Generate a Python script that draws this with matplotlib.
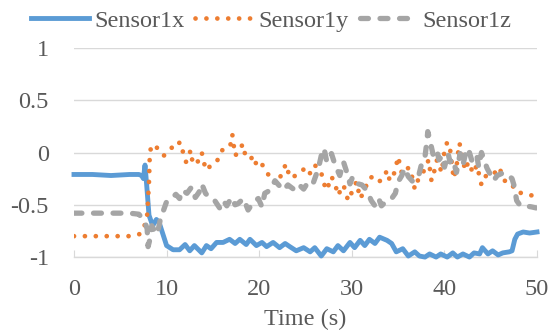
import numpy as np
import matplotlib
matplotlib.use("Agg")
import matplotlib.pyplot as plt

# Sensor1x
t_x = [0, 2, 4, 6, 7.0, 7.3, 7.5, 7.67, 7.85, 8.1, 8.5, 8.9, 9.2, 9.6, 10.0, 10.7, 11.4, 12.0, 12.5,
       13.0, 13.8, 14.3, 14.8, 15.4, 16.1, 16.8, 17.4, 17.9, 18.6, 19.0, 19.7, 20.3, 20.8, 21.5, 22.2,
       22.8, 23.3, 24.0, 24.8, 25.5, 26.0, 26.7, 27.3, 28.0, 28.5, 29.1, 29.8, 30.3, 30.9, 31.4, 31.9,
       32.5, 33.0, 33.8, 34.3, 34.8, 35.5, 36.1, 36.8, 37.3, 37.9, 38.4, 39.1, 39.6, 40.3, 40.9, 41.4,
       42.0, 42.7, 43.2, 43.8, 44.1, 44.7, 45.2, 45.8, 46.3, 47.0, 47.3, 47.6, 47.9, 48.5, 49.2, 50.0]
sensor1x = [-0.21, -0.21, -0.22, -0.21, -0.21, -0.22, -0.25, -0.12, -0.31, -0.6, -0.7, -0.64, -0.67,
            -0.78, -0.89, -0.93, -0.93, -0.88, -0.94, -0.89, -0.96, -0.89, -0.92, -0.86, -0.86, -0.83,
            -0.87, -0.83, -0.88, -0.83, -0.89, -0.86, -0.9, -0.86, -0.91, -0.87, -0.9, -0.94, -0.91,
            -0.95, -0.91, -0.99, -0.92, -0.95, -0.89, -0.94, -0.86, -0.91, -0.84, -0.89, -0.83, -0.87,
            -0.81, -0.84, -0.87, -0.95, -0.92, -0.99, -0.95, -0.99, -1.0, -0.97, -1.0, -0.97, -1.0,
            -0.96, -1.0, -0.97, -1.0, -0.96, -0.97, -0.91, -0.97, -0.94, -0.98, -0.96, -0.95, -0.94,
            -0.83, -0.78, -0.76, -0.77, -0.76]

# Sensor1y
t_y = [0, 3, 6, 7.1, 7.5, 7.9, 8.0, 8.1, 8.2, 8.7, 9.0, 9.2, 9.7, 10.1, 10.6, 11.2, 11.4, 11.6, 11.9,
       12.1, 12.6, 12.7, 13.2, 13.5, 13.8, 14.0, 14.3, 14.8, 15.4, 16.0, 16.4, 17.0, 17.1, 17.4, 17.9,
       18.2, 18.4, 19.0, 19.4, 19.7, 20.1, 20.6, 21.1, 21.5, 22.0, 22.5, 22.9, 23.3, 24.0, 24.4, 25.1,
       25.5, 26.0, 26.7, 26.9, 27.3, 27.8, 28.2, 28.5, 29.1, 29.6, 30.0, 30.5, 30.9, 31.4, 31.8, 32.3,
       32.9, 33.4, 33.8, 34.1, 34.5, 34.8, 35.0, 35.4, 35.7, 36.3, 36.8, 37.2, 37.7, 38.3, 38.6, 38.9,
       39.2, 39.7, 40.0, 40.3, 40.6, 41.0, 41.3, 41.6, 41.9, 42.2, 42.6, 43.1, 43.5, 44.0, 44.5, 45.2,
       45.9, 46.5, 47.1, 47.8, 48.5, 49.4]
sensor1y = [-0.8, -0.8, -0.8, -0.78, -0.74, -0.6, -0.45, -0.28, 0.02, 0.08, 0.04, 0.01, -0.03, 0.0,
            0.05, 0.05, 0.1, 0.03, -0.01, -0.09, 0.02, -0.06, -0.12, -0.06, 0.0, -0.09, -0.17, -0.12,
            -0.09, 0.02, 0.07, 0.08, 0.17, -0.03, 0.02, 0.08, 0.0, -0.07, -0.03, -0.12, -0.09, -0.15,
            -0.23, -0.25, -0.3, -0.18, -0.11, -0.24, -0.22, -0.19, -0.14, -0.2, -0.12, -0.19, -0.28,
            -0.36, -0.23, -0.3, -0.41, -0.31, -0.46, -0.38, -0.28, -0.44, -0.36, -0.25, -0.23, -0.28,
            -0.25, -0.17, -0.27, -0.22, -0.12, -0.04, -0.2, -0.15, -0.15, -0.35, -0.25, -0.19, -0.07,
            -0.27, -0.18, -0.07, -0.19, 0.01, 0.1, 0.04, -0.25, -0.14, 0.09, 0.02, -0.17, -0.09, -0.2,
            -0.12, -0.31, -0.22, -0.22, -0.14, -0.27, -0.28, -0.38, -0.39, -0.41]

# Sensor1z
t_z = [0, 3, 6, 7.0, 7.6, 7.9, 8.0, 8.2, 8.4, 8.7, 9.0, 9.3, 9.6, 10.0, 10.5, 11.0, 11.4, 11.7, 12.2,
       12.7, 13.1, 13.5, 13.8, 14.2, 14.7, 15.2, 15.8, 16.2, 16.5, 17.0, 17.4, 17.7, 18.3, 18.8, 19.4,
       19.9, 20.3, 20.6, 21.2, 21.7, 22.1, 22.6, 23.1, 23.7, 24.2, 24.8, 25.3, 25.8, 26.4, 26.8, 27.0,
       27.3, 27.8, 28.2, 28.7, 29.1, 29.5, 29.8, 30.1, 30.7, 31.1, 31.6, 32.1, 32.5, 32.9, 33.2, 33.8,
       34.3, 34.7, 35.0, 35.4, 35.7, 36.1, 36.6, 37.2, 37.5, 37.9, 38.1, 38.2, 38.4, 38.8, 39.2, 39.4,
       39.8, 40.0, 40.4, 40.6, 40.9, 41.3, 41.7, 42.0, 42.4, 42.7, 43.0, 43.5, 43.7, 44.0, 44.6, 44.9,
       45.3, 45.7, 46.2, 46.7, 47.3, 47.5, 47.8, 48.2, 48.7, 49.4, 49.9]
sensor1z = [-0.58, -0.58, -0.58, -0.59, -0.65, -0.73, -0.9, -0.83, -0.7, -0.75, -0.78, -0.65, -0.57,
            -0.47, -0.44, -0.4, -0.44, -0.36, -0.39, -0.33, -0.43, -0.38, -0.3, -0.39, -0.44, -0.46,
            -0.54, -0.47, -0.51, -0.43, -0.5, -0.49, -0.44, -0.55, -0.47, -0.44, -0.52, -0.39, -0.36,
            -0.27, -0.31, -0.36, -0.31, -0.35, -0.3, -0.35, -0.28, -0.3, -0.15, 0.01, 0.04, -0.09, -0.01,
            -0.12, -0.22, -0.09, -0.2, -0.3, -0.23, -0.3, -0.31, -0.36, -0.46, -0.51, -0.44, -0.51,
            -0.46, -0.44, -0.39, -0.28, -0.22, -0.15, -0.23, -0.28, -0.23, -0.12, -0.04, 0.1, 0.2, 0.13,
            -0.03, 0.02, -0.07, -0.03, -0.14, -0.01, -0.09, -0.06, -0.19, -0.01, -0.12, 0.04, 0.0,
            -0.09, -0.03, -0.14, 0.0, -0.15, -0.2, -0.27, -0.22, -0.2, -0.2, -0.25, -0.31, -0.46, -0.51,
            -0.51, -0.52, -0.53]

x_ticks = [0, 10, 20, 30, 40, 50]
y_ticks = [-1, -0.5, 0, 0.5, 1]
y_tick_labels = ["-1", "-0.5", "0", "0.5", "1"]

plt.rcParams["font.family"] = ["Liberation Serif", "TeX Gyre Termes", "DejaVu Serif"]
plt.rcParams["axes.unicode_minus"] = False
text_color = "#595959"

fig = plt.figure(figsize=(5.48, 3.33), dpi=100)
ax = fig.add_axes([0.135, 0.228, 0.845, 0.628])

ax.plot(t_x, sensor1x, color="#5B9BD5", lw=3.5, solid_joinstyle="round", clip_on=False,
        label="Sensor1x", zorder=3)
ax.plot(t_y, sensor1y, color="#ED7D31", lw=3.4, linestyle=(0, (0.01, 2.3)),
        dash_capstyle="round", label="Sensor1y", zorder=3)
ax.plot(t_z, sensor1z, color="#A5A5A5", lw=3.8, linestyle=(0, (1.5, 2.2)),
        dash_capstyle="round", label="Sensor1z", zorder=4)

ax.set_xlim(0, 50)
ax.set_ylim(-1, 1)
ax.set_xticks(x_ticks)
ax.set_yticks(y_ticks)
ax.set_yticklabels(y_tick_labels)
ax.grid(axis="y", color="#d9d9d9", lw=1)
ax.set_axisbelow(True)

for s in ["top", "right", "left"]:
    ax.spines[s].set_visible(False)
ax.spines["bottom"].set_color("#d9d9d9")
ax.spines["bottom"].set_linewidth(1)

ax.tick_params(axis="x", direction="in", length=5, color="#d9d9d9", labelsize=17.5,
               labelcolor=text_color, pad=16)
ax.tick_params(axis="y", length=0, labelsize=17.5, labelcolor=text_color, pad=18)
ax.set_xlabel("Time (s)", fontsize=17.5, color=text_color, labelpad=6)

# legend on top, outside the plot area
leg = fig.legend(loc="center", bbox_to_anchor=(0.495, 0.937), ncol=3, frameon=False,
                 fontsize=17.5, handlelength=2.4, handletextpad=0.2, columnspacing=0.45,
                 borderaxespad=0)
for txt in leg.get_texts():
    txt.set_color(text_color)

fig.savefig("out.png", dpi=100)
